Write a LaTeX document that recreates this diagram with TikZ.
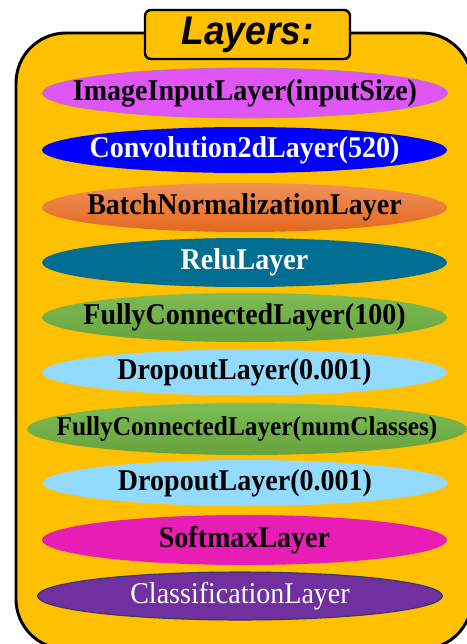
\documentclass[tikz,border=0pt]{standalone}
\usepackage{fontspec}
\usepackage{mathtools}
\setmainfont{Liberation Serif}
\newfontfamily\layerserif{Liberation Serif}[FakeStretch=0.93]
\newfontfamily\titlesans{Liberation Sans}[FakeStretch=0.93]
\usetikzlibrary{shapes.geometric}
\definecolor{LayerGold}{HTML}{FFC000}
\definecolor{InputViolet}{HTML}{DF55F5}
\definecolor{InputEdge}{HTML}{A47FC8}
\definecolor{ConvBlue}{HTML}{0000FF}
\definecolor{BatchTop}{HTML}{F0915A}
\definecolor{BatchBottom}{HTML}{E3681C}
\definecolor{ReluTeal}{HTML}{006E93}
\definecolor{FcTop}{HTML}{7EBC56}
\definecolor{FcBottom}{HTML}{67A33D}
\definecolor{DropBlue}{HTML}{92DBFE}
\definecolor{SoftPink}{HTML}{E81DB5}
\definecolor{ClassPurple}{HTML}{7030A0}
\definecolor{ClassEdge}{HTML}{2E3B6C}
\tikzset{
  panel/.style={draw=black, line width=2.2pt, fill=LayerGold, rounded corners=37.5pt},
  titlebox/.style={draw=black, line width=1.8pt, fill=LayerGold, rounded corners=4.5pt, minimum width=153.75pt, minimum height=36.75pt, inner sep=0pt, font=\titlesans\fontsize{30}{30}\selectfont\bfseries\itshape},
  layer/.style={ellipse, inner sep=0pt, minimum width=303.75pt, minimum height=36.75pt, font=\layerserif\fontsize{22.6}{22.6}\selectfont\bfseries},
  inputlayer/.style={layer, fill=InputViolet, draw=InputEdge, line width=0.5pt},
  convlayer/.style={layer, fill=ConvBlue, text=white},
  batchlayer/.style={layer, top color=BatchTop, bottom color=BatchBottom},
  relulayer/.style={layer, fill=ReluTeal, text=white},
  fclayer/.style={layer, top color=FcTop, bottom color=FcBottom},
  droplayer/.style={layer, fill=DropBlue},
  softlayer/.style={layer, fill=SoftPink},
  classlayer/.style={layer, fill=ClassPurple, draw=ClassEdge, line width=0.8pt, text=white, font=\layerserif\fontsize{22.6}{22.6}\selectfont}
}
\begin{document}
\begin{tikzpicture}[x=0.75pt, y=-0.75pt]
\useasboundingbox (0,0) rectangle (467,644);
\clip (0,0) rectangle (467,644);
\draw[panel] (16,33) rectangle (472,649);
\node[titlebox] (title) at (247.5,34.5) {Layers:};
\node[inputlayer, minimum height=37.5pt] (input) at (245,93) {\clap{ImageInputLayer(inputSize)}};
\node[convlayer, minimum height=34.5pt] (conv) at (244.5,150) {\clap{Convolution2dLayer(520)}};
\node[batchlayer] (batch) at (244.5,207.5) {\clap{BatchNormalizationLayer}};
\node[relulayer] (relu) at (244.5,262.5) {\clap{ReluLayer}};
\node[fclayer] (fc1) at (244.5,317.5) {\clap{FullyConnectedLayer(100)}};
\node[droplayer, minimum height=34.5pt] (drop1) at (244.5,372.5) {\clap{DropoutLayer(0.001)}};
\node[fclayer, minimum width=330pt, minimum height=39pt, font=\layerserif\fontsize{20.4}{20.4}\selectfont\bfseries] (fc2) at (247,429) {\clap{FullyConnectedLayer(numClasses)}};
\node[droplayer, minimum height=34.5pt] (drop2) at (245,483) {\clap{DropoutLayer(0.001)}};
\node[softlayer, minimum height=37.5pt] (soft) at (244.5,540) {\clap{SoftmaxLayer}};
\node[classlayer, minimum height=36pt] (class) at (240,596) {\clap{ClassificationLayer}};
\end{tikzpicture}
\end{document}
